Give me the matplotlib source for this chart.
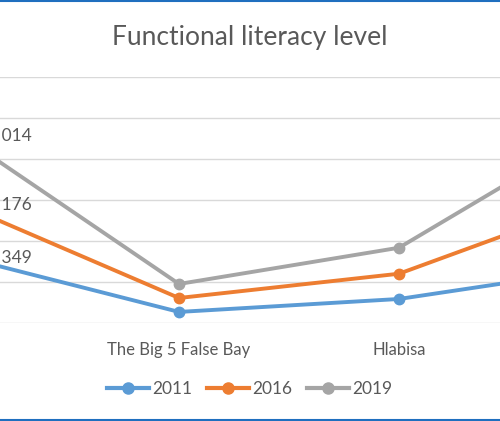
import matplotlib
matplotlib.use("Agg")
import matplotlib.pyplot as plt
from matplotlib.lines import Line2D

categories = ["Jozini", "The Big 5 False Bay", "Hlabisa", "Mtubatuba"]
series_names = ["2011", "2016", "2019"]
v2011 = [16349, 2700, 5860, 13900]
v2016 = [29176, 6100, 12020, 31600]
v2019 = [46014, 9520, 18360, 50200]
colors = ["#5B9BD5", "#ED7D31", "#A5A5A5"]

plt.rcParams['font.family'] = ['Lato', 'DejaVu Sans']
TXT = "#595959"

W, H = 500, 421
fig = plt.figure(figsize=(W / 100, H / 100), dpi=100)

# plot area: y 77..323 px, x spans full width (chart is cropped)
ax = fig.add_axes([0, (H - 323) / H, 1, (323 - 77) / H])
x = list(range(len(categories)))
for vals, c, name in zip([v2011, v2016, v2019], colors, series_names):
    ax.plot(x, vals, color=c, lw=2.8, marker='o', markersize=7.5,
            solid_capstyle='round', label=name, zorder=3)
    # data label for first point (mostly cropped in reference)
    ax.annotate(f"{vals[0]:,}".replace(",", " "), (x[0], vals[0]),
                xytext=(18, -2), textcoords='offset pixels',
                ha='left', va='center', fontsize=12.5, color=TXT,
                clip_on=True, annotation_clip=False, zorder=4)

ax.set_yticks(range(0, 60001, 10000))
ax.yaxis.grid(True, color="#D9D9D9", lw=1.0)
ax.set_axisbelow(True)
ax.tick_params(axis='y', left=False, labelleft=False)
ax.set_xticks(x)
ax.set_xticklabels(categories, fontsize=12, color=TXT)
ax.tick_params(axis='x', length=0, pad=14)
ax.set_xlim(1 - 179 / 220, 1 + 321 / 220)
ax.set_ylim(0, 60000)
for s in ax.spines.values():
    s.set_visible(False)

fig.text(0.5, (H - 38) / H, "Functional literacy level", ha='center', va='center',
         fontsize=19, color=TXT)

handles = [Line2D([], [], color=c, lw=3.0, marker='o', markersize=8) for c in colors]
fig.legend(handles, series_names, loc='center', bbox_to_anchor=(0.5, (H - 389) / H),
           ncol=3, frameon=False, fontsize=12.5, handlelength=2.4, handletextpad=0.2,
           columnspacing=0.85, labelcolor=TXT)

# frame border lines (top & bottom blue)
fig.add_artist(Line2D([0, 1], [1 - 1 / H, 1 - 1 / H], color="#1F6FBF", lw=1.5,
                      transform=fig.transFigure))
fig.add_artist(Line2D([0, 1], [1.2 / H, 1.2 / H], color="#1F6FBF", lw=1.5,
                      transform=fig.transFigure))

fig.savefig("out.png", dpi=100)
